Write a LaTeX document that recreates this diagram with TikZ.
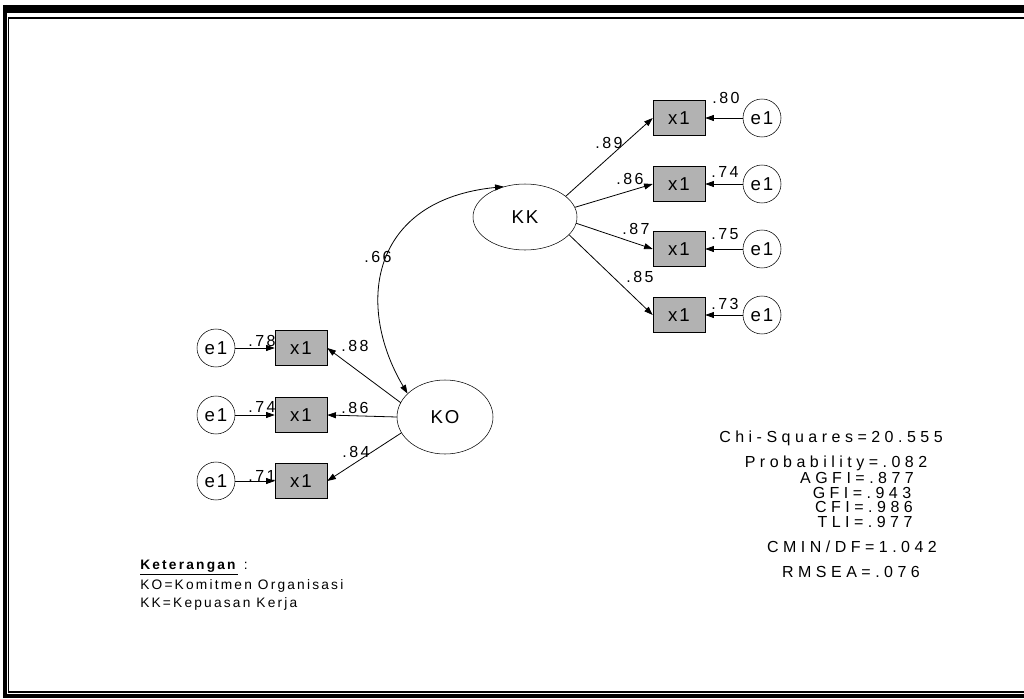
\documentclass[tikz,border=0pt]{standalone}
\usepackage{fontspec}
\setmainfont{Liberation Sans}
\newfontfamily\amos[LetterSpace=10]{Liberation Sans}
\newfontfamily\amosmid[LetterSpace=15]{Liberation Sans}
\newfontfamily\amoswide[LetterSpace=28]{Liberation Sans}
\newfontfamily\amosnote[LetterSpace=16]{Liberation Sans}
\usetikzlibrary{arrows.meta,shapes.geometric,positioning}
\definecolor{cBox}{HTML}{B2B2B2}

\begin{document}
\begin{tikzpicture}[x=0.75pt,y=-0.75pt,>={Triangle[length=6.5pt,width=4.5pt]},
   latent/.style={draw,ellipse,inner sep=0pt,font=\amos\fontsize{14}{16}\selectfont},
   obsbox/.style={draw,fill=cBox,minimum width=39pt,minimum height=26.25pt,
     inner sep=0pt,font=\amos\fontsize{14}{16}\selectfont},
   errc/.style={draw,circle,minimum size=28.5pt,inner sep=0pt,
     font=\amos\fontsize{14}{16}\selectfont},
   coef/.style={inner sep=0pt,font=\amosmid\fontsize{12}{14}\selectfont},
   stat/.style={inner sep=0pt,anchor=base,text height=8pt,text depth=0pt,
     font=\amoswide\fontsize{12}{13}\selectfont},
   note/.style={inner sep=0pt,anchor=base west,font=\amosnote\fontsize{10.3}{12}\selectfont},
   load/.style={line width=0.6pt},line cap=round]
  \useasboundingbox (0,0) rectangle (1024,699);
  % page frame (open on the right)
  \draw[line width=6pt,line cap=butt] (3.3,9) -- (1024,9);
  \draw[line width=2.6pt,line cap=butt] (5,5) -- (5,698);
  \draw[line width=2.4pt,line cap=butt] (3.3,696) -- (1024,696);
  \draw[line width=1.1pt,line cap=butt] (1024,18) -- (8.5,18) -- (8.5,692) -- (1024,692);
  % latent variables
  \node[latent,minimum width=78pt,minimum height=49.5pt] (KK) at (525,217) {KK};
  \node[latent,minimum width=72pt,minimum height=55.5pt] (KO) at (445,417) {KO};
  % KK indicators
  \foreach \i/\y in {1/118,2/184,3/249,4/315}{
    \node[obsbox] (kk\i) at (679,\y) {x1};
    \node[errc] (ekk\i) at (762,\y) {e1};
    \draw[->,load] (ekk\i) -- (kk\i);
  }
  \foreach \i/\a in {1/27,2/11,3/-7,4/-22}
    \draw[->,load] (KK.\a) -- (kk\i.west);
  % KO indicators
  \foreach \i/\y in {1/348,2/415,3/481}{
    \node[obsbox] (ko\i) at (301,\y) {x1};
    \node[errc] (eko\i) at (216,\y) {e1};
    \draw[->,load] (eko\i) -- (ko\i);
  }
  \foreach \i/\a in {1/162,2/180,3/200}
    \draw[->,load] (KO.\a) -- (ko\i.east);
  % covariance
  \draw[<->,load] (KO.148) .. controls (355,305) and (370,200) .. (KK.125);
  % estimates
  \node[coef] (rKK) at (378,257) {.66};
  \node[coef] (lkk1) at (609,143) {.89};
  \node[coef] (lkk2) at (630,179) {.86};
  \node[coef] (lkk3) at (636,229) {.87};
  \node[coef] (lkk4) at (640,277) {.85};
  \node[coef] (rkk1) at (726,98) {.80};
  \node[coef] (rkk2) at (725,172) {.74};
  \node[coef] (rkk3) at (725,234) {.75};
  \node[coef] (rkk4) at (725,304) {.73};
  \node[coef] (lko1) at (355,346) {.88};
  \node[coef] (lko2) at (355,408) {.86};
  \node[coef] (lko3) at (356,452) {.84};
  \node[coef] (rko1) at (262,341) {.78};
  \node[coef] (rko2) at (262,407) {.74};
  \node[coef] (rko3) at (262,476) {.71};
  % fit indices
  \node[stat] (chi) at (831,442) {Chi-Squares=20.555};
  \node[stat] (prob) at (836,467) {Probability=.082};
  \node[stat] (agfi) at (857,483) {AGFI=.877};
  \node[stat] (gfi) at (862,498) {GFI=.943};
  \node[stat] (cfi) at (864,512.5) {CFI=.986};
  \node[stat] (tli) at (865,527) {TLI=.977};
  \node[stat] (cmin) at (852,552) {CMIN/DF=1.042};
  \node[stat] (rmsea) at (851,577) {RMSEA=.076};
  % legend
  \node[note] (ket) at (140,569) {\underline{\textbf{Keterangan}} :};
  \node[note] (ko) at (140,589) {KO=Komitmen Organisasi};
  \node[note] (kk) at (140,607) {KK=Kepuasan Kerja};
\end{tikzpicture}
\end{document}
